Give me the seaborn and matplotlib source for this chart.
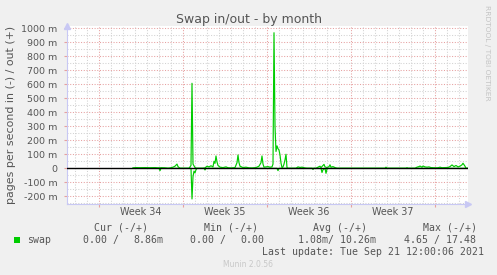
import matplotlib
matplotlib.use("Agg")
import matplotlib.pyplot as plt
import seaborn as sns
import pandas as pd
from matplotlib.patches import Rectangle
from matplotlib.ticker import FixedLocator

# ---- data (time in hours from left edge of the month window, values in milli pages/s) ----
out_hours = [132, 138, 146, 156, 166, 176, 182, 190, 196, 202, 206, 212, 216, 220, 222, 226,
             244, 248, 250, 252, 256, 260, 272, 276, 280, 284, 288, 292, 294, 296, 298, 300,
             302, 306, 312, 318, 322, 328, 336, 340, 342, 344, 346, 352, 358, 364, 370, 378,
             384, 388, 390, 392, 394, 398, 402, 406, 410, 412, 414, 416, 418, 420, 422, 424,
             426, 428, 430, 432, 434, 436, 438, 440, 442, 458, 460, 462, 466, 470, 476, 480,
             498, 502, 506, 508, 514, 516, 520, 524, 526, 528, 532, 536, 540, 636, 638, 640,
             678, 680, 682, 696, 700, 704, 706, 710, 712, 716, 720, 724, 728, 732, 738, 742,
             746, 750, 756, 762, 766, 770, 774, 778, 782, 786, 790, 792, 796, 798, 802]
out_vals = [3, 5, 4, 5, 4, 5, 3, 4, 3, 0, 2, 8, 15, 30, 12, 0,
            0, 20, 607, 30, 5, 0, 0, 3, 15, 10, 18, 10, 50, 35, 88, 45,
            20, 8, 5, 10, 4, 2, 5, 40, 95, 40, 15, 5, 8, 3, 2, 5,
            15, 40, 88, 30, 8, 10, 12, 8, 10, 30, 968, 300, 120, 160, 140, 130,
            95, 38, 5, 10, 30, 60, 100, 5, 0, 0, 5, 10, 6, 8, 2, 0,
            0, 8, 15, 5, 28, 10, 5, 12, 25, 8, 12, 5, 0, 0, 8, 0,
            0, 4, 0, 0, 8, 12, 16, 8, 16, 10, 8, 10, 5, 4, 3, 4,
            8, 4, 5, 6, 12, 24, 12, 20, 10, 15, 25, 36, 15, 0, 0]

in_hours = [132, 184, 186, 188, 248, 250, 252, 254, 256, 258, 260, 274, 276, 278,
            420, 422, 424, 490, 492, 494, 508, 510, 512, 516, 518, 520, 522, 802]
in_vals = [0, 0, -17, 0, 0, -219, -60, -20, -33, -10, 0, 0, -12, 0,
           0, -17, 0, 0, -8, 0, 0, -30, -10, 0, -36, -5, 0, 0]

week_labels = ["Week 34", "Week 35", "Week 36", "Week 37"]
y_ticks = [-200, -100, 0, 100, 200, 300, 400, 500, 600, 700, 800, 900, 1000]

legend_heads = ["Cur (-/+)", "Min (-/+)", "Avg (-/+)", "Max (-/+)"]
series_name = "swap"
last_update = "Last update: Tue Sep 21 12:00:06 2021"

# ---- figure ----
W, H = 497, 275
BG = "#f0f0f0"
TXT = "#555555"
GREEN = "#00cc00"
RED_GRID = "#e6a0a0"
GRAY_GRID = "#d2d2d2"
AXIS = "#c8c8f4"

fig = plt.figure(figsize=(W / 100, H / 100), dpi=100, facecolor=BG)
ax = fig.add_axes([67 / W, (H - 204) / H, 401 / W, (204 - 26) / H])
ax.set_facecolor("white")

def px(x, y):
    return x / W, 1 - y / H

# x grid: weeks (major) and days (minor)
week_starts = [64 + 168 * k for k in range(5)]
days = [16 + 24 * k for k in range(34)]
ax.xaxis.set_major_locator(FixedLocator(week_starts))
ax.xaxis.set_minor_locator(FixedLocator(days))
ax.yaxis.set_major_locator(FixedLocator(y_ticks))
ax.yaxis.set_minor_locator(FixedLocator([v + 50 for v in y_ticks] + [-250]))

ax.set_xlim(0, 802)
ax.set_ylim(-255, 1016)

dots = (0, (1, 1.6))
ax.grid(which="minor", color=GRAY_GRID, linestyle=dots, linewidth=0.75, zorder=0)
ax.grid(which="major", color=RED_GRID, linestyle=dots, linewidth=0.75, zorder=0)
ax.set_axisbelow(True)

df_out = pd.DataFrame({"hours": out_hours, "value": out_vals})
df_in = pd.DataFrame({"hours": in_hours, "value": in_vals})
sns.lineplot(data=df_out, x="hours", y="value", ax=ax, color=GREEN, linewidth=0.85,
             estimator=None, zorder=3)
sns.lineplot(data=df_in, x="hours", y="value", ax=ax, color=GREEN, linewidth=0.85,
             estimator=None, zorder=3)
ax.axhline(0, color="black", linewidth=1.0, zorder=4)

# tick labels
ax.set_yticklabels([("0" if v == 0 else f"{v} m") for v in y_ticks])
ax.set_xticklabels([])
ax.tick_params(axis="y", which="major", length=2, color=RED_GRID, pad=5,
               labelsize=6.8, labelcolor=TXT)
ax.tick_params(axis="y", which="minor", length=0)
ax.tick_params(axis="x", which="major", length=2, color=RED_GRID)
ax.tick_params(axis="x", which="minor", length=0)
ax.set_xlabel("")
ax.set_ylabel("")

for i, lab in enumerate(week_labels):
    fig.text(*px(67 + (148 + 168 * i) / 2, 212), lab, ha="center", va="center",
             fontsize=6.9, color=TXT)

for s in ["top", "right"]:
    ax.spines[s].set_visible(False)
for s in ["left", "bottom"]:
    ax.spines[s].set_color(AXIS)
    ax.spines[s].set_linewidth(0.8)
ax.plot([0], [1.0], marker="^", transform=ax.transAxes, clip_on=False,
        color=AXIS, markersize=4, zorder=5)
ax.plot([1.0], [0], marker=">", transform=ax.transAxes, clip_on=False,
        color=AXIS, markersize=4, zorder=5)

# titles and labels
fig.text(*px(249, 19), "Swap in/out - by month", ha="center", va="center",
         fontsize=9, color=TXT)
fig.text(*px(11.5, 115), "pages per second in (-) / out (+)", rotation=90,
         ha="center", va="center", fontsize=7.9, color=TXT)
fig.text(*px(487.5, 53), "RRDTOOL / TOBI OETIKER", rotation=270,
         ha="center", va="center", fontsize=5.4, color="#c4c4c4")

# legend
mono = dict(family="DejaVu Sans Mono", fontsize=7.1, color=TXT, va="center", ha="left")
for x0, h in zip([94, 204, 313, 423], legend_heads):
    fig.text(*px(x0, 228), h, **mono)
fig.add_artist(Rectangle(px(14, 243), 6 / W, 6 / H, transform=fig.transFigure,
                         facecolor=GREEN, edgecolor="none"))
fig.text(*px(27, 240), series_name, **mono)
fig.text(*px(83, 240), "0.00 /", **mono)
fig.text(*px(133, 240), "8.86m", **mono)
fig.text(*px(190, 240), "0.00 /", **mono)
fig.text(*px(240, 240), "0.00", **mono)
fig.text(*px(298, 240), "1.08m/ 10.26m", **mono)
fig.text(*px(404, 240), "4.65 / 17.48", **mono)
fig.text(*px(262, 252), last_update, **mono)
fig.text(*px(248, 264.5), "Munin 2.0.56", ha="center", va="center",
         fontsize=5.5, color="#c8c8c8")

fig.savefig("out.png", dpi=100, facecolor=BG)
